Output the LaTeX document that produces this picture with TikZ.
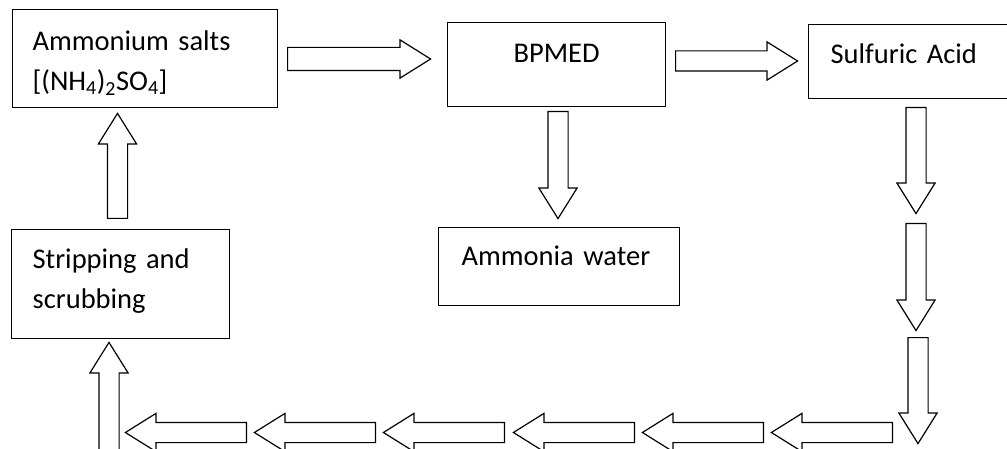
\documentclass[tikz,border=0pt]{standalone}
\usepackage{fontspec}
\setmainfont{Carlito}
\usepackage{tikz}
\usetikzlibrary{shapes.arrows}

\begin{document}
\begin{tikzpicture}[
    x=1pt, y=-1pt,
    font=\fontsize{28.5pt}{40pt}\selectfont,
    % Process boxes
    procbox/.style={draw, line width=1.3pt, rectangle, anchor=north west, inner ysep=0pt, align=left},
    % Hollow block arrows
    blockarrow/.style={single arrow, draw, line width=1.2pt, fill=white, inner xsep=0pt, inner ysep=9.5pt,
        single arrow head extend=9pt, single arrow tip angle=64, minimum width=37pt, anchor=tail}
]
\useasboundingbox (0,0) rectangle (1007,449);

% ---------------------------------------------------
% 1. BOXES
% ---------------------------------------------------
\node[procbox, inner xsep=20pt, text width=225pt, text height=41pt, text depth=57pt] (salts) at (12,9)
    {Ammonium salts\\{}[(NH\textsubscript{4})\textsubscript{2}SO\textsubscript{4}]};
\node[procbox, inner xsep=0pt, text width=218pt, align=center, text height=40pt, text depth=44pt] (bpmed) at (447,22) {BPMED};
\node[procbox, inner xsep=22pt, text width=160pt, text height=39pt, text depth=35pt] (acid) at (808,24) {Sulfuric Acid};
\node[procbox, inner xsep=23pt, text width=195pt, text height=38pt, text depth=40pt] (water) at (438,227) {Ammonia water};
\node[procbox, inner xsep=21pt, text width=176pt, text height=39pt, text depth=70pt] (strip) at (11,229)
    {Stripping and\\scrubbing};

% ---------------------------------------------------
% 2. BLOCK ARROWS
% ---------------------------------------------------

% Top row
\node[blockarrow, minimum height=143pt, inner ysep=11pt, single arrow head extend=7.5pt] (toBpmed) at (287,59) {};
\node[blockarrow, minimum height=122pt] (toAcid) at (675,61) {};

% BPMED -> Ammonia water
\node[blockarrow, rotate=-90, minimum height=107pt] (toWater) at (558,111) {};

% Down the right side
\node[blockarrow, rotate=-90, minimum height=106pt] (down1) at (916,107) {};
\node[blockarrow, rotate=-90, minimum height=107pt] (down2) at (916,223) {};
\node[blockarrow, rotate=-90, minimum height=106pt] (down3) at (918,337) {};

% Back along the bottom
\node[blockarrow, rotate=180, minimum height=121pt] (back1) at (893,432.5) {};
\node[blockarrow, rotate=180, minimum height=121pt] (back2) at (764,432.5) {};
\node[blockarrow, rotate=180, minimum height=121pt] (back3) at (635,432.5) {};
\node[blockarrow, rotate=180, minimum height=121pt] (back4) at (505,432.5) {};
\node[blockarrow, rotate=180, minimum height=121pt] (back5) at (376,432.5) {};
\node[blockarrow, rotate=180, minimum height=121pt] (back6) at (247,432.5) {};

% Up the left side
\node[blockarrow, rotate=90, minimum height=117pt] (upStrip) at (109,460) {};
\node[blockarrow, rotate=90, minimum height=105pt] (upSalts) at (117.5,219) {};

\end{tikzpicture}
\end{document}
